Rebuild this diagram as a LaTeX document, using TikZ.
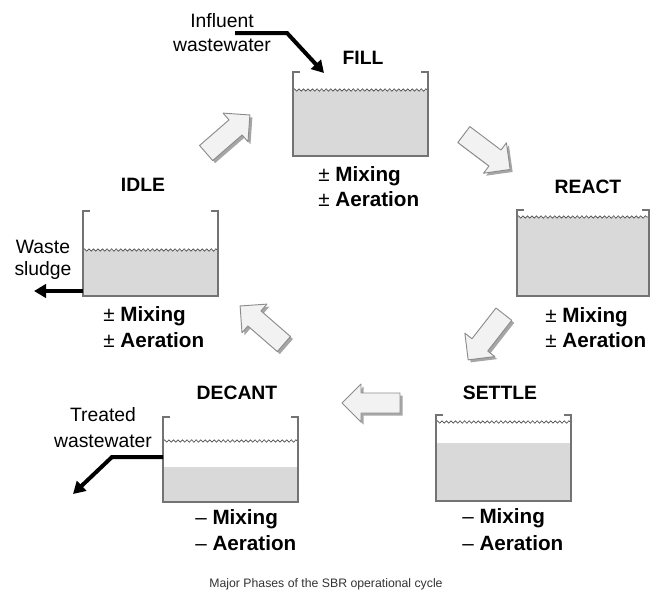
\documentclass[tikz,border=0pt]{standalone}
\usepackage{fontspec}
\setmainfont{Liberation Sans}
\usetikzlibrary{arrows.meta,decorations.pathmorphing}
\newcommand\sbrtank[6]{% left, right, top, bottom, wave, liquid top
  \fill[liquid] (#1,#6) rectangle (#2,#4);
  \draw[wave] (#1,#5) -- (#2,#5);
  \draw[tankwall] (#1+7,#3) -- (#1,#3) -- (#1,#4) -- (#2,#4) -- (#2,#3) -- (#2-7,#3);
}
\newcommand\sbrshape[1]{\path[#1] (-29,-10) -- (10,-10) -- (10,-19) -- (29,0) -- (10,19) -- (10,10) -- (-29,10) -- cycle;}
\newcommand\sbrblock[3]{% x, y, angle
  \begin{scope}[shift={(#1+2.5,#2+2.5)},rotate=#3]\sbrshape{blkshadow}\end{scope}
  \begin{scope}[shift={(#1,#2)},rotate=#3]\sbrshape{blk}\end{scope}
}
\begin{document}
\begin{tikzpicture}[x=0.75pt,y=-0.75pt,
  tankwall/.style={draw=black!55,line width=1.2pt},
  liquid/.style={fill=black!15},
  wave/.style={draw=black!70,line width=0.5pt,decorate,decoration={snake,segment length=3.4pt,amplitude=0.9pt}},
  blk/.style={fill=black!5,draw=black!45,line width=0.7pt,line join=round},
  blkshadow/.style={fill=black!35},
  title/.style={font=\bfseries\fontsize{14.5}{16}\selectfont,inner sep=0pt},
  cond/.style={font=\bfseries\fontsize{15.5}{17}\selectfont,inner sep=0pt,anchor=west},
  txt/.style={font=\fontsize{14.5}{16}\selectfont,inner sep=0pt},
  flow/.style={line width=3pt,-{Triangle[length=9pt,width=10pt]}}
]
\useasboundingbox (0,0) rectangle (651,594);

% tanks
\sbrtank{293}{428}{72}{156}{90}{90}
\sbrtank{517}{649}{210}{296}{217}{217}
\sbrtank{83}{218}{211}{296}{250}{250}
\sbrtank{163}{298}{417}{502}{441}{467}
\sbrtank{436}{571}{415}{501}{422}{443}

% titles
\node[title] (fillT) at (363,58) {FILL};
\node[title] (reactT) at (588,187) {REACT};
\node[title] (idleT) at (143,185) {IDLE};
\node[title] (decantT) at (237,393) {DECANT};
\node[title] (settleT) at (500,393) {SETTLE};

% conditions
\node[cond] (fillM) at (318,176) {\textmd{±} Mixing};
\node[cond] (fillA) at (318,199) {\textmd{±} Aeration};
\node[cond] (reactM) at (545,317) {\textmd{±} Mixing};
\node[cond] (reactA) at (545,340) {\textmd{±} Aeration};
\node[cond] (idleM) at (103,316) {\textmd{±} Mixing};
\node[cond] (idleA) at (103,340) {\textmd{±} Aeration};
\node[cond] (decM) at (195,519) {\textmd{–} Mixing};
\node[cond] (decA) at (195,543) {\textmd{–} Aeration};
\node[cond] (setM) at (462,518) {\textmd{–} Mixing};
\node[cond] (setA) at (462,543) {\textmd{–} Aeration};

% flow labels
\node[txt] (inf1) at (222,21) {Influent};
\node[txt] (inf2) at (222,45) {wastewater};
\node[txt] (ws1) at (43,247) {Waste};
\node[txt] (ws2) at (43,270) {sludge};
\node[txt] (tw1) at (103,415) {Treated};
\node[txt] (tw2) at (103,441) {wastewater};

% flow arrows
\coordinate (inStart) at (235,33);
\coordinate (inBend) at (287,33);
\coordinate (inEnd) at (324,73);
\draw[flow] (inStart) -- (inBend) -- (inEnd);
\coordinate (wsStart) at (83,291);
\coordinate (wsEnd) at (34,291);
\draw[flow] (wsStart) -- (wsEnd);
\coordinate (twStart) at (163,457);
\coordinate (twBend) at (112,457);
\coordinate (twEnd) at (73,494);
\draw[flow] (twStart) -- (twBend) -- (twEnd);

% cycle block arrows
\sbrblock{228}{134}{41}
\sbrblock{487}{152}{-37}
\sbrblock{486}{337}{-128}
\sbrblock{371}{403}{180}
\sbrblock{262}{325}{139}

% caption
\node[font=\fontsize{9.2}{11}\selectfont,text=black!80,inner sep=0pt] (cap) at (326,584) {Major Phases of the SBR operational cycle};
\end{tikzpicture}
\end{document}
